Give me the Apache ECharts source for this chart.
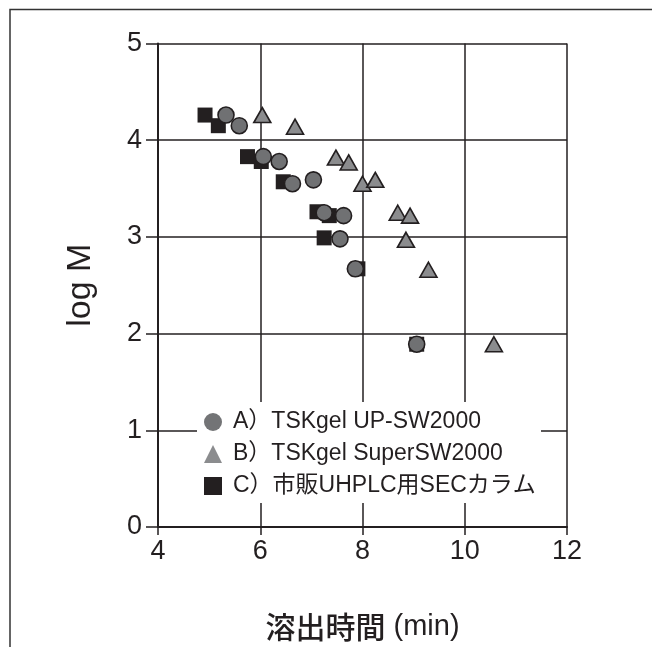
<!DOCTYPE html>
<html>
<head>
<meta charset="utf-8">
<script src="https://cdn.jsdelivr.net/npm/echarts@6/dist/echarts.min.js"></script>
<style>
  html, body { margin: 0; padding: 0; background: #ffffff; }
  #chart { width: 652px; height: 647px; }
</style>
</head>
<body>
<div id="chart"></div>
<script>
// Elution time (min) vs. log M of the calibration standards for three columns
const seriesNames = ['A）TSKgel UP-SW2000', 'B）TSKgel SuperSW2000', 'C）市販UHPLC用SECカラム'];

const timeA = [5.33, 5.59, 6.06, 6.37, 6.63, 7.04, 7.25, 7.63, 7.56, 7.86, 9.06];
const logMA = [4.26, 4.15, 3.83, 3.78, 3.55, 3.59, 3.25, 3.22, 2.98, 2.67, 1.89];

const timeB = [6.04, 6.68, 7.48, 7.73, 8.00, 8.25, 8.69, 8.93, 8.85, 9.29, 10.57];
const logMB = [4.26, 4.14, 3.82, 3.77, 3.55, 3.59, 3.25, 3.22, 2.97, 2.66, 1.89];

const timeC = [4.92, 5.18, 5.75, 6.02, 6.45, 7.11, 7.35, 7.25, 7.91, 9.06];
const logMC = [4.26, 4.15, 3.83, 3.78, 3.57, 3.26, 3.22, 2.99, 2.67, 1.89];

const xTicks = [4, 6, 8, 10, 12];
const yTicks = [0, 1, 2, 3, 4, 5];

const ink = '#231f20';
const numFont = "'Liberation Sans', Arial, sans-serif";

function pairs(xs, ys) {
  return xs.map((x, i) => [x, ys[i]]);
}

const chart = echarts.init(document.getElementById('chart'), null, { renderer: 'canvas' });

chart.setOption({
  animation: false,
  backgroundColor: '#ffffff',
  grid: { left: 158, right: 85, top: 43.5, bottom: 118.5, containLabel: false },
  xAxis: {
    type: 'value',
    min: xTicks[0],
    max: xTicks[xTicks.length - 1],
    interval: 2,
    name: '{jp|溶出時間} {unit|(min)}',
    nameLocation: 'middle',
    nameGap: 85,
    nameTextStyle: {
      color: ink,
      fontFamily: numFont,
      fontSize: 29,
      rich: {
        jp: { fontFamily: "'Noto Sans CJK JP', sans-serif", fontSize: 30, fontWeight: 500, color: ink },
        unit: { fontFamily: numFont, fontSize: 29, color: ink }
      }
    },
    axisLine: { show: true, onZero: false, lineStyle: { color: ink, width: 2 } },
    axisTick: { show: true, inside: false, length: 8, lineStyle: { color: ink, width: 1.5 } },
    axisLabel: { margin: 11, fontFamily: numFont, fontSize: 27, color: ink },
    splitLine: { show: true, lineStyle: { color: ink, width: 1.5 } }
  },
  yAxis: {
    type: 'value',
    min: yTicks[0],
    max: yTicks[yTicks.length - 1],
    interval: 1,
    name: 'log M',
    nameLocation: 'middle',
    nameGap: 60,
    nameRotate: 90,
    nameTextStyle: { fontFamily: numFont, fontSize: 34, color: ink },
    axisLine: { show: true, onZero: false, lineStyle: { color: ink, width: 2 } },
    axisTick: { show: true, inside: false, length: 12, lineStyle: { color: ink, width: 1.5 } },
    axisLabel: { margin: 16, fontFamily: numFont, fontSize: 27, color: ink },
    splitLine: { show: true, lineStyle: { color: ink, width: 1.5 } }
  },
  legend: {
    orient: 'vertical',
    left: 204,
    top: 409,
    padding: 0,
    itemWidth: 18,
    itemHeight: 18,
    itemGap: 6,
    textStyle: {
      fontFamily: "'Liberation Sans', 'Noto Sans CJK JP', sans-serif",
      fontSize: 23,
      lineHeight: 26,
      padding: [0, 0, 0, 6],
      color: ink
    },
    data: [
      { name: seriesNames[0], icon: 'circle', itemStyle: { color: '#737476', borderWidth: 0 } },
      { name: seriesNames[1], icon: 'triangle', itemStyle: { color: '#8b8c8e', borderWidth: 0 } },
      { name: seriesNames[2], icon: 'rect', itemStyle: { color: ink, borderWidth: 0 } }
    ]
  },
  graphic: [
    {
      type: 'polyline',
      silent: true,
      shape: { points: [[10, 647], [10, 9.5], [652, 9.5]] },
      style: { fill: null, stroke: '#333333', lineWidth: 1.5 }
    },
    {
      // white panel behind the legend, interrupting the grid lines
      type: 'rect',
      silent: true,
      z: 3,
      shape: { x: 197, y: 402, width: 344, height: 101 },
      style: { fill: '#ffffff' }
    }
  ],
  series: [
    {
      name: seriesNames[0],
      type: 'scatter',
      z: 4,
      symbol: 'circle',
      symbolSize: 16,
      itemStyle: { color: '#707173', borderColor: ink, borderWidth: 1.6, opacity: 1 },
      data: pairs(timeA, logMA)
    },
    {
      name: seriesNames[1],
      type: 'scatter',
      z: 3,
      symbol: 'triangle',
      symbolSize: [17, 15],
      itemStyle: { color: '#8b8c8e', borderColor: ink, borderWidth: 1.6, opacity: 1 },
      data: pairs(timeB, logMB)
    },
    {
      name: seriesNames[2],
      type: 'scatter',
      z: 2,
      symbol: 'rect',
      symbolSize: 15,
      itemStyle: { color: ink, borderWidth: 0, opacity: 1 },
      data: pairs(timeC, logMC)
    }
  ]
});
</script>
</body>
</html>
